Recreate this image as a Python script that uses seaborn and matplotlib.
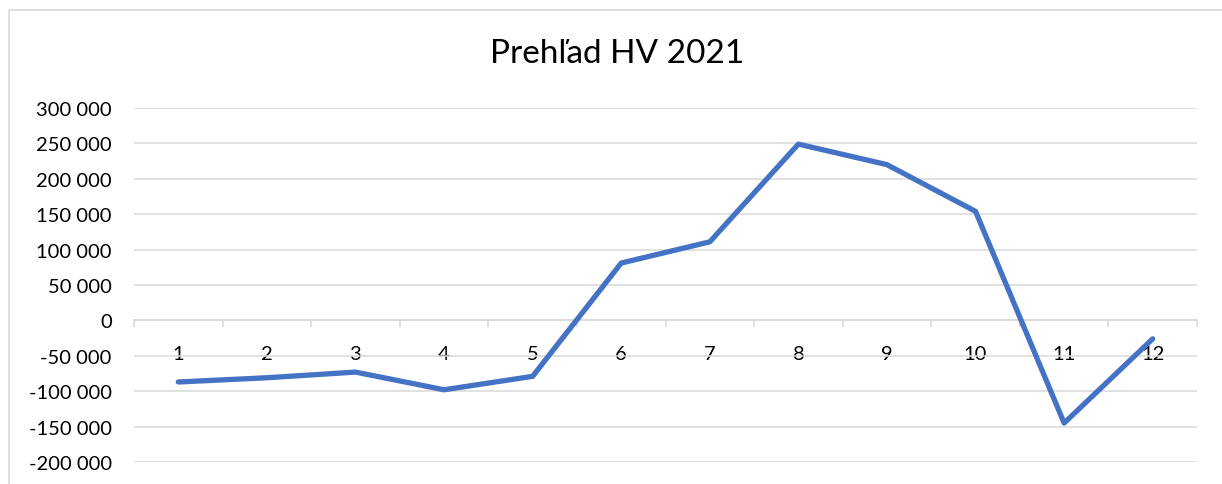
import matplotlib
matplotlib.use("Agg")
import matplotlib.pyplot as plt
import seaborn as sns
import pandas as pd
from matplotlib.patches import Rectangle
from matplotlib.ticker import FixedLocator, FuncFormatter

months = [1, 2, 3, 4, 5, 6, 7, 8, 9, 10, 11, 12]
hv_values = [-87000, -81000, -73000, -98000, -79000, 81000, 111000, 249000, 220000, 154000, -145000, -26000]
y_ticks = [-200000, -150000, -100000, -50000, 0, 50000, 100000, 150000, 200000, 250000, 300000]
title = "Prehľad HV 2021"

sns.set_theme(style="white")
plt.rcParams['font.family'] = ['Lato', 'DejaVu Sans']

df = pd.DataFrame({"mesiac": months, "HV": hv_values})

W, H = 1222, 485
fig = plt.figure(figsize=(W / 100, H / 100), dpi=100)
fig.patch.set_facecolor("white")
# chart area border
fig.add_artist(Rectangle((9 / W, -0.05), 1.2, 1 - 11 / H + 0.05, transform=fig.transFigure,
                         fill=False, edgecolor="#d9d9d9", linewidth=1.2))

ax = fig.add_axes([134 / W, 1 - 463 / H, (1197 - 134) / W, (463 - 109) / H])
sns.lineplot(data=df, x="mesiac", y="HV", ax=ax, color="#4472C4", linewidth=3.8, zorder=3)

ax.set_xlim(0.5, 12.5)
ax.set_ylim(-200000, 300000)
ax.yaxis.set_major_locator(FixedLocator(y_ticks))
ax.yaxis.set_major_formatter(FuncFormatter(lambda v, p: f"{int(v):,}".replace(",", " ")))
ax.grid(axis="y", color="#d9d9d9", linewidth=1.1)
ax.grid(axis="x", visible=False)
ax.set_axisbelow(True)

for s in ["left", "top", "right"]:
    ax.spines[s].set_visible(False)
ax.spines["bottom"].set_position(("data", 0))
ax.spines["bottom"].set_color("#d9d9d9")
ax.spines["bottom"].set_linewidth(1.1)

# category boundary tick marks (major) and category labels (minor)
ax.set_xticks([i + 0.5 for i in range(0, 13)])
ax.set_xticklabels([""] * 13)
ax.set_xticks(months, minor=True)
ax.set_xticklabels([str(m) for m in months], minor=True)
ax.tick_params(axis="x", which="major", direction="out", length=5, width=1.1, color="#d9d9d9", bottom=True)
ax.tick_params(axis="x", which="minor", length=0, pad=17.5, labelsize=14.5, labelcolor="#000000", bottom=True)
ax.tick_params(axis="y", length=0, pad=16, labelsize=14.5, labelcolor="#000000")

ax.set_xlabel("")
ax.set_ylabel("")
fig.text(617 / W, 1 - 54 / H, title, ha="center", va="center", fontsize=24, color="#000000")

fig.savefig("out.png", dpi=100, facecolor="white")
